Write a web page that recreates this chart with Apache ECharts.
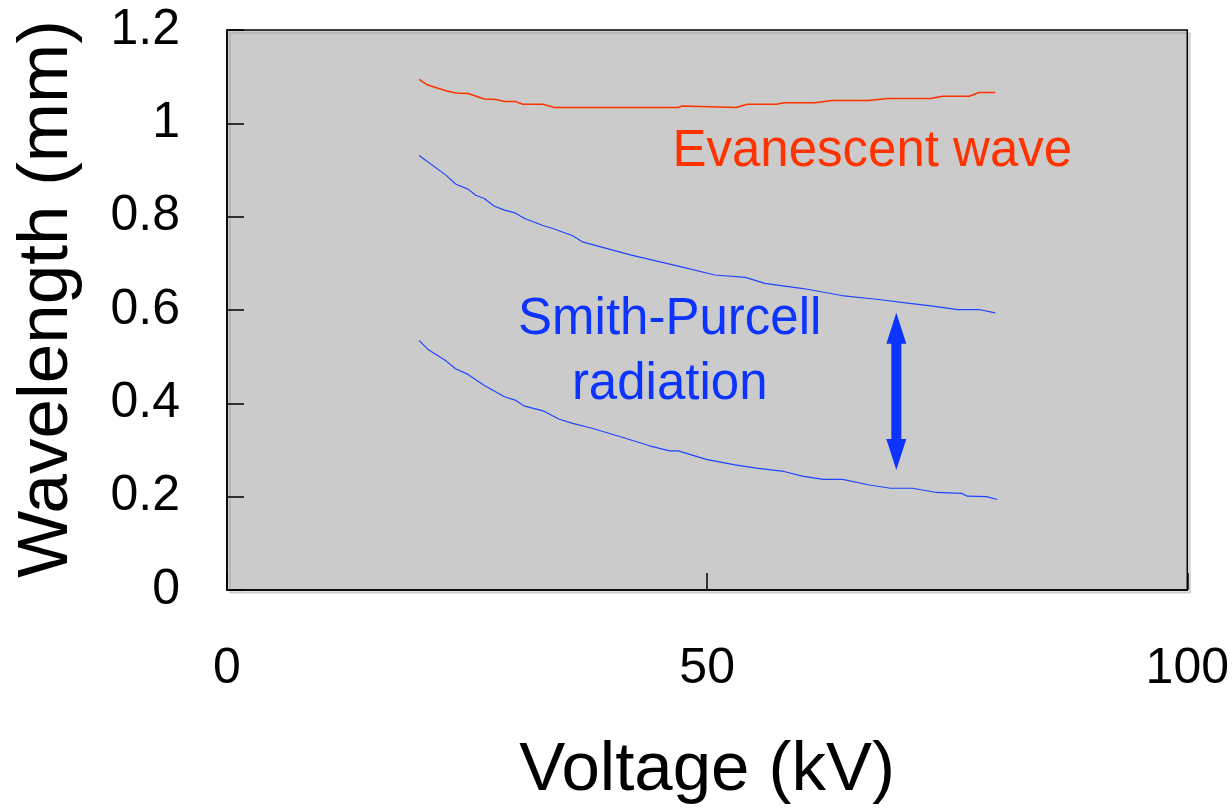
<!DOCTYPE html>
<html>
<head>
<meta charset="utf-8">
<title>Wavelength vs Voltage</title>
<script src="https://cdn.jsdelivr.net/npm/echarts@6/dist/echarts.min.js"></script>
<style>
  html, body { margin: 0; padding: 0; background: #ffffff; }
  #chart { width: 1232px; height: 811px; }
</style>
</head>
<body>
<div id="chart"></div>
<script>
// Evanescent wave (red)
const evanX = [20.0, 20.9, 22.8, 23.8, 25.1, 26.8, 28.0, 28.9, 30.0, 30.8, 32.9, 34.1, 38.0, 40.9, 47.0, 47.4, 53.0, 54.2, 57.2, 58.0, 61.2, 63.0, 66.8, 68.8, 69.7, 73.3, 74.5, 77.3, 78.3, 80.0]
const evanY = [1.094, 1.082, 1.070, 1.065, 1.064, 1.052, 1.051, 1.047, 1.047, 1.041, 1.041, 1.034, 1.034, 1.034, 1.034, 1.037, 1.034, 1.041, 1.041, 1.044, 1.044, 1.049, 1.049, 1.053, 1.053, 1.053, 1.058, 1.058, 1.066, 1.066]

// Smith-Purcell radiation, upper bound (blue)
const spUpperX = [20.0, 22.8, 23.8, 25.1, 25.9, 26.8, 27.8, 28.9, 30.0, 31.0, 32.9, 34.0, 36.0, 37.0, 39.7, 42.0, 47.0, 50.8, 54.0, 56.0, 60.0, 64.0, 68.1, 71.1, 73.3, 76.1, 78.3, 80.0]
const spUpperY = [0.931, 0.889, 0.870, 0.859, 0.846, 0.839, 0.823, 0.814, 0.808, 0.796, 0.781, 0.774, 0.759, 0.746, 0.731, 0.718, 0.694, 0.675, 0.670, 0.657, 0.646, 0.631, 0.622, 0.614, 0.609, 0.601, 0.601, 0.594]

// Smith-Purcell radiation, lower bound (blue)
const spLowerX = [20.0, 20.9, 22.8, 23.8, 25.1, 26.8, 28.9, 30.0, 31.0, 32.9, 34.6, 36.0, 38.1, 40.9, 44.0, 46.1, 47.0, 49.9, 52.9, 55.1, 58.0, 59.9, 62.1, 64.1, 66.9, 69.1, 71.4, 73.9, 76.5, 77.1, 79.1, 80.2]
const spLowerY = [0.535, 0.516, 0.491, 0.474, 0.462, 0.438, 0.414, 0.407, 0.394, 0.384, 0.366, 0.357, 0.346, 0.329, 0.309, 0.298, 0.298, 0.280, 0.268, 0.261, 0.254, 0.244, 0.237, 0.237, 0.225, 0.218, 0.218, 0.209, 0.207, 0.201, 0.200, 0.194]

// double arrow between the two blue curves (kV, mm)
const arrowX = [69.7]
const arrowY = [0.594, 0.257]

// annotation anchors (kV, mm)
const evanLabelPos = [67.2, 0.939]
const spLabelPos = [46.1, 0.508]

const FONT = 'Liberation Sans, Arial, sans-serif'
const RED = '#ff3300'
const BLUE = '#0d33ff'
const LINE_BLUE = '#2244ff'

const zip = (xs, ys) => xs.map((x, i) => [x, ys[i]])

const chart = echarts.init(document.getElementById('chart'))

const option = {
  backgroundColor: '#ffffff',
  animation: false,
  grid: {
    left: 227, right: 44, top: 30, bottom: 221,
    show: true,
    backgroundColor: '#cbcbcb',
    borderColor: '#000000',
    borderWidth: 1.5,
    shadowColor: 'rgba(0, 0, 0, 0.12)',
    shadowOffsetX: 3,
    shadowOffsetY: 3
  },
  xAxis: {
    type: 'value',
    min: 0, max: 100, interval: 50,
    name: 'Voltage (kV)',
    nameLocation: 'middle',
    nameGap: 146,
    nameTextStyle: { color: '#000', fontSize: 69, fontFamily: FONT },
    axisLine: { show: true, lineStyle: { color: '#000', width: 1.5 } },
    axisTick: { show: true, inside: true, length: 17, lineStyle: { color: '#000', width: 1.5 } },
    axisLabel: { color: '#000', fontSize: 50, fontFamily: FONT, margin: 54 },
    splitLine: { show: false }
  },
  yAxis: {
    type: 'value',
    min: 0, max: 1.2, interval: 0.2,
    name: 'Wavelength (mm)',
    nameLocation: 'middle',
    nameGap: 144,
    nameTextStyle: { color: '#000', fontSize: 71, fontFamily: FONT, padding: [0, 0, 0, 22] },
    axisLine: { show: true, lineStyle: { color: '#000', width: 1.5 } },
    axisTick: { show: true, inside: true, length: 17, lineStyle: { color: '#000', width: 1.5 } },
    axisLabel: { color: '#000', fontSize: 50, fontFamily: FONT, margin: 47 },
    splitLine: { show: false }
  },
  series: [
    {
      name: 'Evanescent wave',
      type: 'line',
      data: zip(evanX, evanY),
      showSymbol: false,
      lineStyle: { color: RED, width: 1.5 }
    },
    {
      name: 'Smith-Purcell upper',
      type: 'line',
      data: zip(spUpperX, spUpperY),
      showSymbol: false,
      lineStyle: { color: LINE_BLUE, width: 1.2 }
    },
    {
      name: 'Smith-Purcell lower',
      type: 'line',
      data: zip(spLowerX, spLowerY),
      showSymbol: false,
      lineStyle: { color: LINE_BLUE, width: 1.2 }
    }
  ]
}

chart.setOption(option)

// annotations placed through the chart's own scales
const toPx = (p) => chart.convertToPixel({ gridIndex: 0 }, p)
const evanPx = toPx(evanLabelPos)
const spPx = toPx(spLabelPos)
const arrowTopPx = toPx([arrowX[0], arrowY[0]])
const arrowBotPx = toPx([arrowX[0], arrowY[1]])
const ax = arrowTopPx[0]
const ty = arrowTopPx[1]
const by = arrowBotPx[1]
const headH = 31, headW = 10, shaftW = 5

chart.setOption({
  graphic: [
    {
      type: 'text', x: evanPx[0], y: evanPx[1],
      style: { text: 'Evanescent wave', fill: RED, font: '51px ' + FONT, align: 'center', verticalAlign: 'middle' }
    },
    {
      type: 'text', x: spPx[0], y: spPx[1],
      style: { text: 'Smith-Purcell\nradiation', fill: BLUE, font: '51px ' + FONT, align: 'center', verticalAlign: 'middle', lineHeight: 65 }
    },
    {
      type: 'polygon',
      shape: {
        points: [
          [ax, ty],
          [ax + headW, ty + headH], [ax + shaftW, ty + headH],
          [ax + shaftW, by - headH], [ax + headW, by - headH],
          [ax, by],
          [ax - headW, by - headH], [ax - shaftW, by - headH],
          [ax - shaftW, ty + headH], [ax - headW, ty + headH]
        ]
      },
      style: { fill: BLUE }
    }
  ]
})

window.addEventListener('resize', () => chart.resize())
</script>
</body>
</html>
